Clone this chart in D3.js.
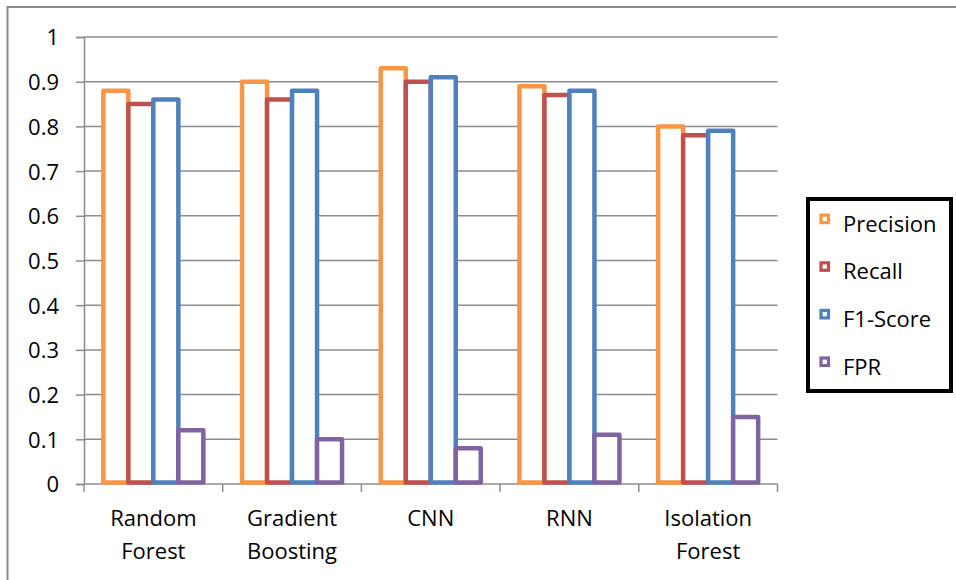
<!DOCTYPE html>
<html>
<head>
<meta charset="utf-8">
<script src="https://cdn.jsdelivr.net/npm/d3@7"></script>
<style>
  html, body { margin: 0; padding: 0; background: #fff; }
  svg { display: block; }
  text { font-family: "Open Sans", "Liberation Sans", sans-serif; fill: #000; }
</style>
</head>
<body>
<script>
const categories = ["Random Forest", "Gradient Boosting", "CNN", "RNN", "Isolation Forest"];
const categoryLines = [["Random", "Forest"], ["Gradient", "Boosting"], ["CNN"], ["RNN"], ["Isolation", "Forest"]];
const seriesNames = ["Precision", "Recall", "F1-Score", "FPR"];
const precision = [0.88, 0.90, 0.93, 0.89, 0.80];
const recall    = [0.85, 0.86, 0.90, 0.87, 0.78];
const f1Score   = [0.86, 0.88, 0.91, 0.88, 0.79];
const fpr       = [0.12, 0.10, 0.08, 0.11, 0.15];
const yTicks = [0, 0.1, 0.2, 0.3, 0.4, 0.5, 0.6, 0.7, 0.8, 0.9, 1];
const colors = ["#F79646", "#C0504D", "#4F81BD", "#8064A2"];

const seriesValues = [precision, recall, f1Score, fpr];
const W = 956, H = 580;
const mLeft = 84, mRight = 777.5, mTop = 37, mBottom = 484;

const svg = d3.select("body").append("svg").attr("width", W).attr("height", H);

// outer chart border
svg.append("rect").attr("x", 7.5).attr("y", 7).attr("width", W + 20).attr("height", H + 20)
  .attr("fill", "none").attr("stroke", "#8c8c8c").attr("stroke-width", 2);

const y = d3.scaleLinear().domain([0, 1]).range([mBottom, mTop]);
const x0 = d3.scaleBand().domain(categories).range([mLeft, mRight]).padding(0);
const x1 = d3.scaleBand().domain(seriesNames).range([0, x0.bandwidth()])
  .paddingInner(0).paddingOuter(0.774);

// gridlines
svg.append("g").selectAll("line").data(yTicks.filter(d => d > 0)).join("line")
  .attr("x1", mLeft).attr("x2", mRight)
  .attr("y1", d => y(d)).attr("y2", d => y(d))
  .attr("stroke", "#8c8c8c").attr("stroke-width", 1.5);

// y axis
const yAxis = d3.axisLeft(y).tickValues(yTicks).tickSize(8).tickPadding(17)
  .tickFormat(d => d3.format("~g")(d));
const gy = svg.append("g").attr("transform", `translate(${mLeft},0)`).call(yAxis);
gy.select(".domain").attr("stroke", "#8c8c8c").attr("stroke-width", 1.5);
gy.selectAll(".tick line").attr("stroke", "#8c8c8c").attr("stroke-width", 1.5);
gy.selectAll(".tick text").attr("font-size", 22).attr("font-family", "Open Sans").attr("fill", "#000")
  .attr("dy", "0.36em");

// x axis
const gx = svg.append("g").attr("transform", `translate(0,${mBottom})`);
gx.append("line").attr("x1", mLeft).attr("x2", mRight).attr("y1", 0).attr("y2", 0)
  .attr("stroke", "#8c8c8c").attr("stroke-width", 1.5);
const boundaries = categories.map(c => x0(c)).concat([mRight]);
gx.selectAll("line.tk").data(boundaries).join("line").attr("class", "tk")
  .attr("x1", d => d).attr("x2", d => d).attr("y1", 0).attr("y2", 8)
  .attr("stroke", "#8c8c8c").attr("stroke-width", 1.5);
categories.forEach((c, i) => {
  const lines = categoryLines[i];
  const t = gx.append("text").attr("text-anchor", "middle").attr("font-size", 22)
    .attr("x", x0(c) + x0.bandwidth() / 2);
  lines.forEach((ln, j) => {
    t.append("tspan").attr("x", x0(c) + x0.bandwidth() / 2).attr("y", 42 + j * 33).text(ln);
  });
});

// bars
seriesNames.forEach((s, si) => {
  svg.append("g").selectAll("rect").data(categories).join("rect")
    .attr("x", c => x0(c) + x1(s))
    .attr("y", (c, i) => y(seriesValues[si][i]))
    .attr("width", x1.bandwidth())
    .attr("height", (c, i) => y(0) - y(seriesValues[si][i]) - 1.5)
    .attr("fill", "#fff")
    .attr("stroke", colors[si]).attr("stroke-width", 4.5)
    .attr("stroke-linejoin", "round");
});

// legend
const lg = svg.append("g");
lg.append("rect").attr("x", 808).attr("y", 199).attr("width", 143).attr("height", 192)
  .attr("fill", "#fff").attr("stroke", "#000").attr("stroke-width", 4);
seriesNames.forEach((s, i) => {
  const by = 231.7 + i * 47.6;
  lg.append("rect").attr("x", 821).attr("y", by - 16.5).attr("width", 7.5).attr("height", 7.5)
    .attr("fill", "#fff").attr("stroke", colors[i]).attr("stroke-width", 3.2);
  lg.append("text").attr("x", 843).attr("y", by).attr("font-size", 22).text(s);
});
</script>
</body>
</html>
